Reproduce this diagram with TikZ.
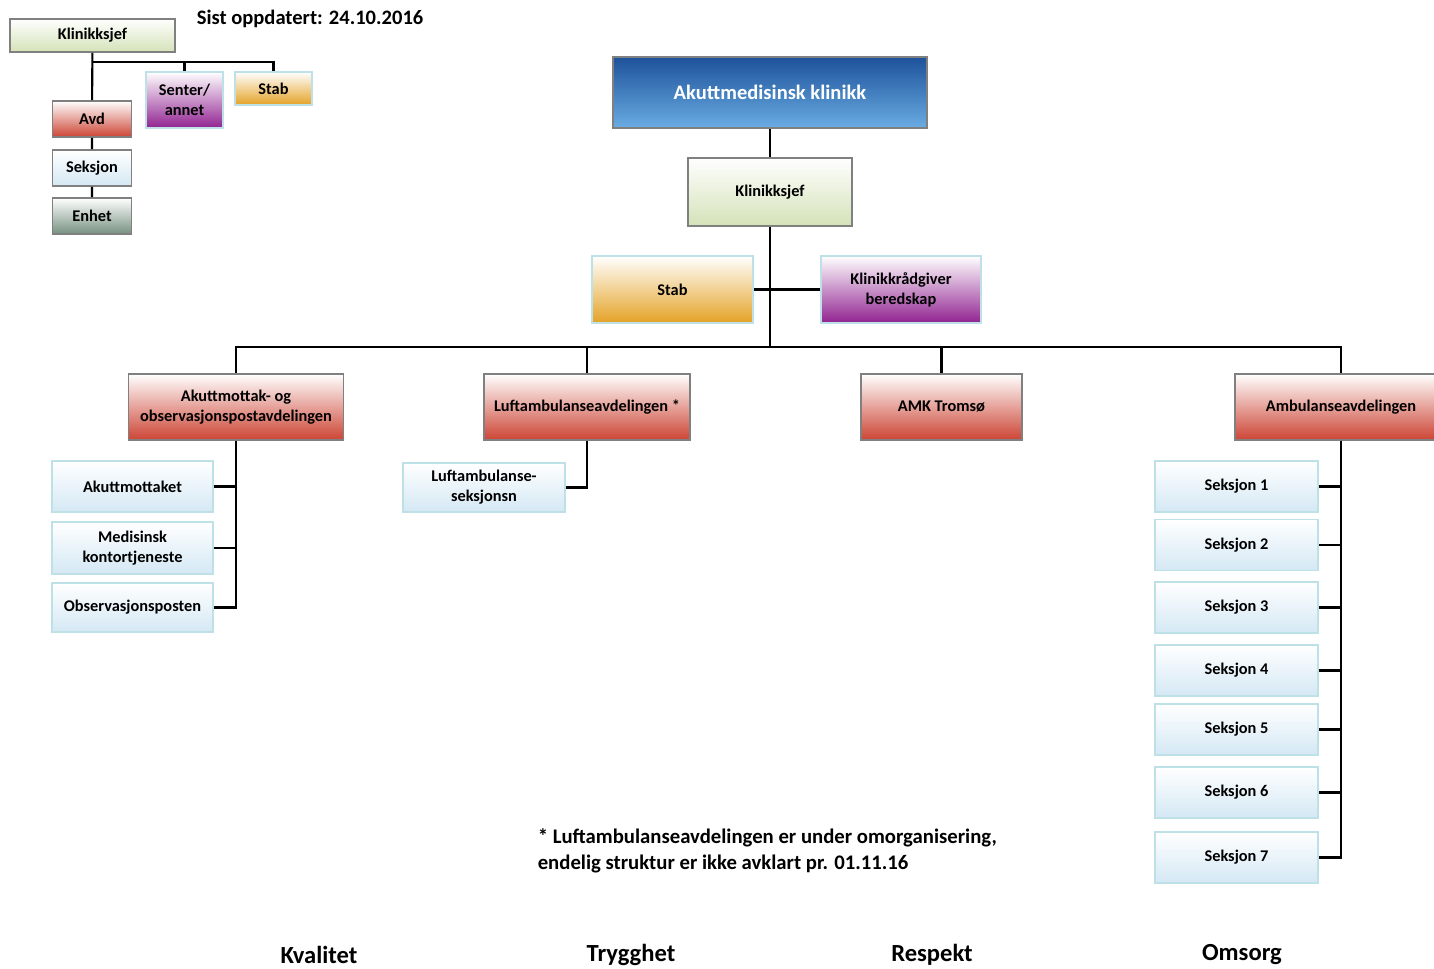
\documentclass[tikz,border=0pt]{standalone}
\usepackage{fontspec}
\setmainfont{Carlito}
\usetikzlibrary{positioning,calc}

\definecolor{boxgrey}{RGB}{128,128,128}
\definecolor{boxice}{RGB}{190,225,232}
\definecolor{clinictop}{RGB}{30,82,155}
\definecolor{clinicbot}{RGB}{105,172,226}
\definecolor{chiefbot}{RGB}{212,226,184}
\definecolor{staffbot}{RGB}{228,162,38}
\definecolor{centerbot}{RGB}{145,35,145}
\definecolor{deptbot}{RGB}{204,68,52}
\definecolor{sectbot}{RGB}{212,232,244}
\definecolor{unitbot}{RGB}{118,145,128}

\tikzstyle{orgchart}=[
    x=0.02cm,y=-0.02cm,line width=1.2pt,
    every node/.style={
        align=center,inner sep=1pt,
        font=\bfseries\fontsize{9.3}{11.3}\selectfont,
    }]
\tikzset{
    dim/.style 2 args={minimum width=#1*0.02cm,minimum height=#2*0.02cm},
    greybox/.style={draw=boxgrey,line width=1.1pt},
    icebox/.style={draw=boxice,line width=1.1pt},
    clinic/.style={greybox,top color=clinictop,bottom color=clinicbot,text=white,
        font=\bfseries\fontsize{11.7}{14}\selectfont},
    chief/.style={greybox,top color=white,bottom color=chiefbot},
    staff/.style={icebox,top color=white,bottom color=staffbot},
    center/.style={icebox,top color=white,bottom color=centerbot},
    dept/.style={greybox,top color=white,bottom color=deptbot},
    sect/.style={icebox,top color=white,bottom color=sectbot},
    unit/.style={greybox,top color=white,bottom color=unitbot},
    motto/.style={font=\bfseries\fontsize{14}{17}\selectfont},
}
\newcommand{\twolines}[2]{#1\\#2}

\begin{document}
\begin{tikzpicture}[orgchart]
    \useasboundingbox (0,0) rectangle (1434,969);

    % legend
    \node[chief,dim={165}{33}] (lchief) at (92.5,35.5) {Klinikksjef};
    \node[center,dim={77}{56}] (lcenter) at (184.5,100) {\twolines{Senter/}{annet}};
    \node[staff,dim={77}{33}] (lstaff) at (273.5,88.5) {Stab};
    \node[dept,dim={79}{36}] (ldept) at (92,119) {Avd};
    \node[greybox,top color=white,bottom color=sectbot,dim={79}{36}] (lsect) at (92,168) {Seksjon};
    \node[unit,dim={79}{36}] (lunit) at (92,216) {Enhet};
    \node[anchor=west,font=\bfseries\fontsize{11.7}{14}\selectfont] (updated) at (194,19) {Sist oppdatert: 24.10.2016};
    \coordinate (lbus) at (92,62);

    \draw (lchief) -- (ldept) -- (lsect) -- (lunit);
    \draw (lbus) -| (lcenter.north);
    \draw (lbus) -| (lstaff.north);

    % top of the clinic
    \node[clinic,dim={314}{71}] (clinic) at (770,92.5) {Akuttmedisinsk klinikk};
    \node[chief,dim={164}{68}] (chief) at (770,192) {Klinikksjef};
    \node[staff,dim={161}{67}] (staff) at (672.5,289.5) {Stab};
    \node[center,dim={160}{67}] (advisor) at (901,289.5) {\twolines{Klinikkrådgiver}{beredskap}};
    \coordinate (bus) at (770,347);

    \draw (clinic) -- (chief);
    \draw (chief) -- (bus);
    \draw (staff) -- (advisor);

    % departments
    \node[dept,dim={215}{66}] (emerg) at (236,407) {\twolines{Akuttmottak- og}{observasjonspostavdelingen}};
    \node[dept,dim={206}{66}] (air) at (587,407) {Luftambulanseavdelingen *};
    \node[dept,dim={161}{66}] (amk) at (941.5,407) {AMK Tromsø};
    \node[dept,dim={212}{66}] (amb) at (1341,407) {Ambulanseavdelingen};

    \foreach \d in {emerg,air,amk,amb}
        \draw (bus) -| (\d.north);

    % sections
    \node[sect,dim={161}{51}] (recv) at (132.5,486.5) {Akuttmottaket};
    \node[sect,dim={161}{52}] (office) at (132.5,548) {\twolines{Medisinsk}{kontortjeneste}};
    \node[sect,dim={161}{49}] (obs) at (132.5,607.5) {Observasjonsposten};
    \node[sect,dim={162}{49}] (airsect) at (484,487.5) {\twolines{Luftambulanse-}{seksjonsn}};

    \foreach \s in {recv,office,obs}
        \draw (emerg.south) |- (\s.east);
    \draw (air.south) |- (airsect.east);

    \foreach \i/\y in {1/486.5,2/545,3/607.5,4/670.5,5/729.5,6/792.5,7/857.5} {
        \node[sect,dim={163}{51}] (amb\i) at (1236.5,\y) {Seksjon \i};
        \draw (amb.south) |- (amb\i.east);
    }

    % notes
    \node[anchor=west,align=left,font=\bfseries\fontsize{11.8}{15}\selectfont] (note) at (535,851)
        {\twolines{* Luftambulanseavdelingen er under omorganisering,}{endelig struktur er ikke avklart pr. 01.11.16}};
    \node[motto] (quality) at (319,955) {Kvalitet};
    \node[motto] (safety) at (631,955) {Trygghet};
    \node[motto] (respect) at (932,955) {Respekt};
    \node[motto] (care) at (1242,955) {Omsorg};
\end{tikzpicture}
\end{document}
